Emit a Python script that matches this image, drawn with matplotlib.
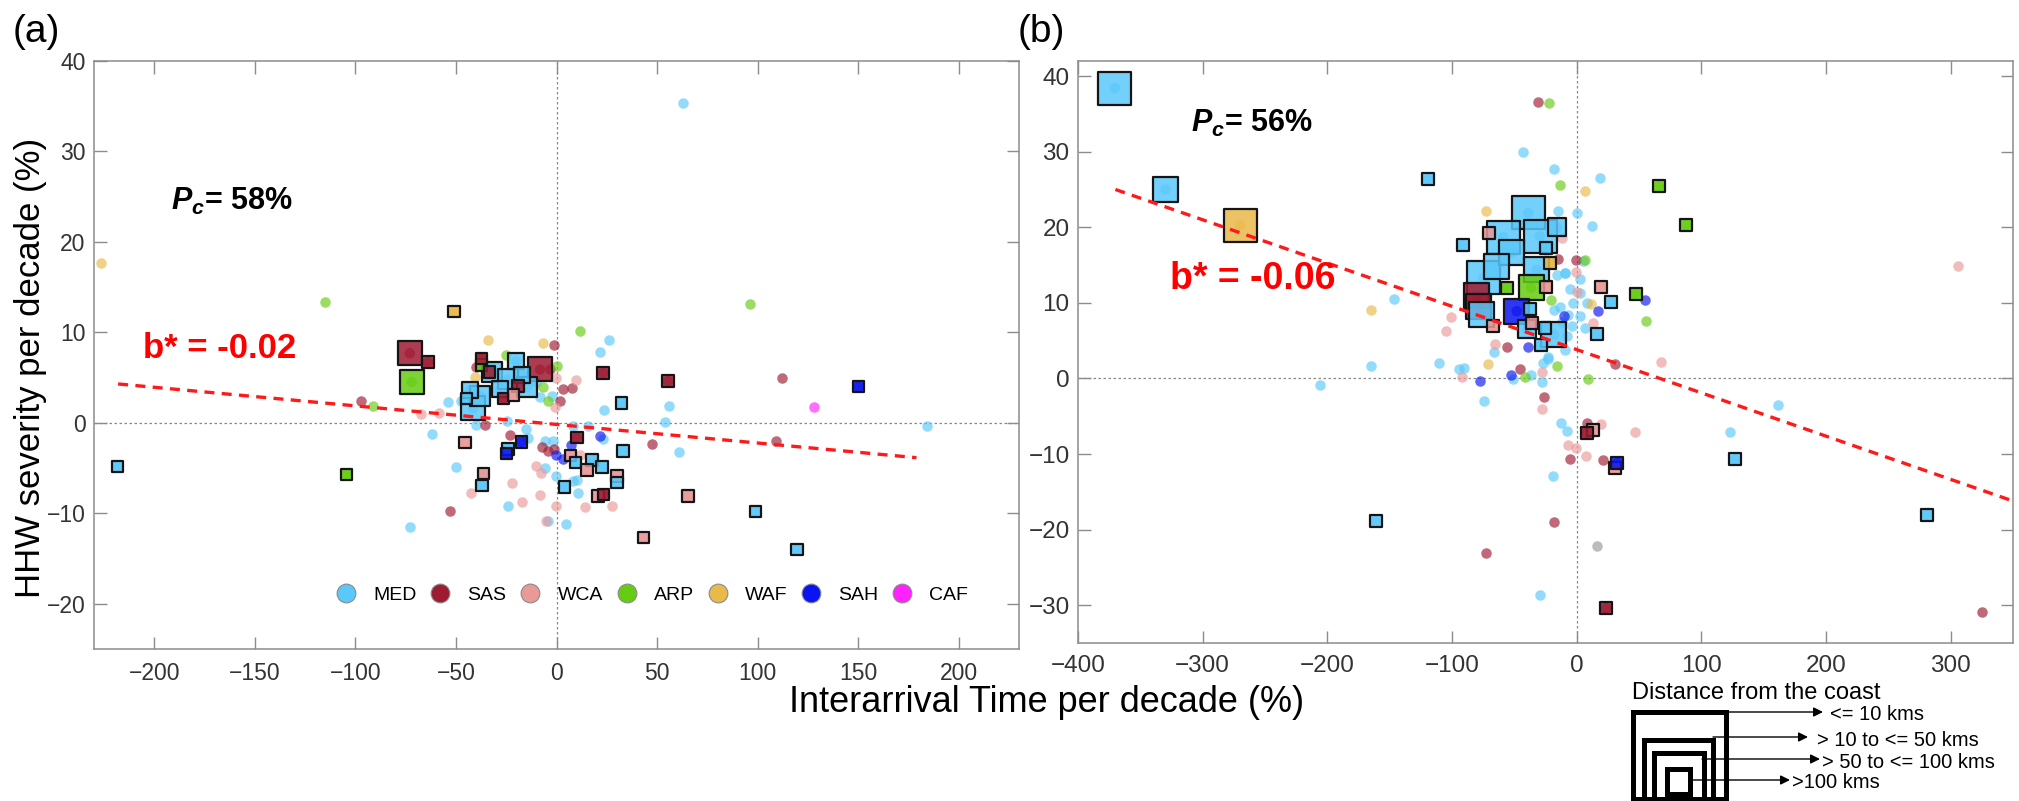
import matplotlib
matplotlib.use("Agg")
import matplotlib.pyplot as plt
from matplotlib.lines import Line2D
from matplotlib.patches import Rectangle
from matplotlib.colors import to_rgba

plt.rcParams.update({
    "font.family": "Liberation Sans",
    "mathtext.fontset": "custom",
    "mathtext.it": "Liberation Sans:italic:bold",
    "mathtext.rm": "Liberation Sans:bold",
})

REGIONS = ["MED", "SAS", "WCA", "ARP", "WAF", "SAH", "CAF"]
COLORS = {"MED": "#5AC8FA", "SAS": "#9E1B32", "WCA": "#EA9999", "ARP": "#66CC11",
          "WAF": "#E9B949", "SAH": "#0A14F0", "CAF": "#FF22FF", "OTH": "#999999"}

# ---------------- panel (a): stations without coastal square ----------------
a_med = [(63, 35.4), (21.4, 7.8), (26, 9.2), (184, -0.3), (56, 1.9), (23.4, 1.4), (53.8, 0.1),
         (60.8, -3.2), (-53.8, 2.3), (-62, -1.2), (-50, -4.9), (-73, -11.5), (-24.3, -9.2),
         (-4, -10.8), (4.8, -11.2), (10.6, -7.7), (10.2, -6.3), (-47.6, 2.4), (-39.9, -0.2),
         (-24.6, 0.2), (-15, -0.7), (-14.2, -1.7), (-5.9, -2.0), (-1.8, -2.0), (8.2, -0.4),
         (15.6, -0.4), (23.1, -1.8), (-5.5, -5.0), (-0.1, -5.9), (8.2, -6.4), (-36.9, -5.7),
         (-8.4, 2.9), (-10, 4.5), (-2, 3.0)]
a_sas = [(-1, 8.6), (112.3, 5.0), (47.7, -2.3), (109.4, -2.0), (-97, 2.4), (-52.8, -9.7),
         (7.7, 3.8), (3.2, 3.7), (-35.7, -0.2), (-23, -1.3), (-7.2, -2.7), (-4.2, -3.1),
         (-1.4, -2.9), (1.9, 2.4), (-39.9, 6.2), (-3, 6.0)]
a_wca = [(-67.2, 1.0), (-58.6, 1.1), (-42.6, -7.7), (-22, -6.6), (-17, -8.8), (-8.3, -8.0),
         (-0.3, -9.2), (14.4, -9.3), (27.8, -9.2), (9.6, 4.7), (-0.6, 1.75), (-10, -4.8),
         (-7.6, -5.5), (11.5, -3.5), (18.1, -4.0), (-0.1, 5.0), (-5, -10.9)]
a_arp = [(-115.2, 13.4), (96, 13.1), (11.8, 10.2), (-91.2, 1.9), (-4, 2.4), (0, 6.3),
         (-6.7, 4.0), (-24.9, 7.5)]
a_waf = [(-226.6, 17.7), (-34, 9.2), (-6.7, 8.8), (-40.7, 5.1)]
a_sah = [(-0.1, -3.5), (3.2, -4.0), (7.3, -2.4), (21.4, -1.5)]
a_caf = [(128.3, 1.75)]

# coastal stations: (region, distance class 1..4 [4 = <=10 km], x, y)
a_squares = [
    ("SAS", 4, -73, 7.7), ("ARP", 4, -72.1, 4.5), ("SAS", 4, -8.2, 5.9), ("MED", 4, -41.5, 1.6),
    ("MED", 3, -38.2, 3.0), ("MED", 3, -32, 5.6), ("MED", 3, -24, 4.8), ("MED", 3, -14.5, 4.0),
    ("MED", 2, -43, 3.6), ("MED", 2, -20, 6.8), ("MED", 2, -17, 5.3), ("MED", 2, -28, 3.7),
    ("ARP", 1, -37.4, 6.4), ("SAS", 1, -64, 6.7), ("SAS", 1, -37.3, 7.1), ("SAS", 1, -33.2, 5.6),
    ("SAS", 1, -19.2, 4.1), ("SAS", 1, -26.3, 2.7), ("WCA", 1, -21.3, 3.1), ("SAS", 1, 23.2, 5.5),
    ("SAS", 1, 55.4, 4.6), ("MED", 1, 32.4, 2.2), ("MED", 1, -44.8, 2.7), ("WCA", 1, -45.4, -2.2),
    ("SAH", 1, -17.4, -2.1), ("MED", 1, -24.1, -2.9), ("SAH", 1, -24.9, -3.4), ("SAS", 1, 10.1, -1.6),
    ("WCA", 1, 7.0, -3.6), ("MED", 1, 9.5, -4.4), ("MED", 1, 17.6, -4.1), ("MED", 1, 22.7, -4.9),
    ("WCA", 1, 15.1, -5.2), ("MED", 1, 33, -3.1), ("WCA", 1, -36.4, -5.6), ("MED", 1, -37.0, -6.9),
    ("MED", 1, 4.0, -7.1), ("WCA", 1, 30, -5.9), ("MED", 1, 30, -6.6), ("WCA", 1, 20.6, -8.1),
    ("SAS", 1, 23.4, -7.9), ("WCA", 1, 65.3, -8.1), ("ARP", 1, -104.4, -5.7), ("MED", 1, -218.2, -4.8),
    ("WAF", 1, -51, 12.3), ("WCA", 1, 43.2, -12.7), ("MED", 1, 98.9, -9.8), ("MED", 1, 119.7, -14.0),
    ("SAH", 1, 150.1, 4.0),
]
a_line_x = [-218, 179]
a_line_y = [4.3, -3.85]

# ---------------- panel (b) ----------------
b_med = [(-43, 29.9), (-18.3, 27.7), (18.9, 26.5), (-15.2, 22.2), (0.2, 21.9), (12.2, 20.2),
         (-9.5, 14), (-146.7, 10.5), (-165.3, 1.6), (-206.1, -0.8), (-110.1, 2.1), (-94.6, 1.3),
         (-90, 1.4), (-66.3, 3.5), (-50.8, -0.05), (-36.3, 0.4), (-27.6, -0.5), (-22.9, 2.6),
         (-74.5, -3.0), (161.2, -3.5), (123.1, -7.1), (-12.6, -5.9), (-7.4, -6.9), (-19.3, -12.9),
         (-29.1, -28.6), (-16, 13.7), (-9.4, 13.9), (2.7, 13.1), (-5.3, 11.9), (2.7, 11.3),
         (8, 10.0), (-13.4, 9.5), (-6.7, 8.4), (2.7, 8.2), (-4, 6.9), (6.7, 6.7), (-8, 5.6),
         (-9.4, 3.8), (-22.7, 2.9), (-26.7, 2.0), (-12, 7.5), (-18, 9.0), (5, 15.5), (-3, 10)]
b_sas = [(-31.2, 36.6), (-0.7, 15.7), (-14.7, 15.8), (-55.9, 4.2), (-45.1, 1.3), (-26.5, -2.4),
         (30.7, 1.9), (8.5, -5.9), (-5.4, -10.6), (21.4, -10.8), (-18.3, -19.0), (-72.9, -23.1),
         (324.8, -30.9)]
b_wca = [(-11.6, 18.6), (-0.7, 14.1), (-100.8, 8.1), (-104.9, 6.3), (-92, 0.2), (-65.2, 4.6),
         (-27.6, -4.1), (67.3, 2.2), (305.7, 14.9), (46.7, -7.1), (19.4, -6.0), (-6.9, -8.8),
         (-0.2, -9.2), (7.5, -10.2), (0, 11.5), (13.4, 7.4), (-27.5, 0.8)]
b_arp = [(-21.9, 36.4), (-13.6, 25.6), (7, 15.7), (-41.5, 0.2), (-15.7, 1.7), (9, -0.1),
         (55.5, 7.6), (-20.6, 10.4)]
b_waf = [(6.5, 24.8), (-72.4, 22.1), (-165.3, 9.0), (-70.9, 1.9), (11.8, 9.9)]
b_sah = [(-77.6, -0.3), (-38.9, 4.1), (-52.8, 0.5), (55, 10.4), (17.4, 8.9), (-10.2, 8.2)]
b_oth = [(16.3, -22.2)]

b_squares = [
    ("MED", 4, -370.6, 38.4), ("WAF", 4, -270, 20.3), ("MED", 4, -38.8, 21.9), ("MED", 4, -58.8, 18.7),
    ("MED", 4, -29.4, 18.8), ("MED", 4, -74.9, 13.3),
    ("MED", 3, -329.8, 25.0), ("MED", 3, -52.1, 16.6), ("MED", 3, -64.2, 14.8), ("MED", 3, -32.1, 14.4),
    ("ARP", 3, -36.6, 12.0), ("SAS", 3, -80, 11.0), ("SAS", 3, -79, 9.5), ("MED", 3, -76.2, 8.4),
    ("SAH", 3, -48.1, 8.9), ("MED", 3, -18.2, 5.8),
    ("MED", 2, -15.5, 20.0), ("MED", 2, -40.1, 6.5),
    ("MED", 1, -118.9, 26.4), ("MED", 1, -91.5, 17.6), ("ARP", 1, 65.8, 25.4), ("ARP", 1, 87.5, 20.3),
    ("ARP", 1, 47.2, 11.2), ("MED", 1, 127.2, -10.7), ("MED", 1, 281, -18), ("MED", 1, -161.2, -18.9),
    ("SAS", 1, 23.5, -30.4), ("WCA", 1, -70, 19.3), ("MED", 1, -24.9, 17.2), ("WAF", 1, -21.4, 15.3),
    ("ARP", 1, -56.1, 12.0), ("WCA", 1, -24.6, 12.1), ("WCA", 1, 19.8, 12.1), ("MED", 1, 27.6, 10.1),
    ("MED", 1, -37.4, 9.2), ("WCA", 1, -66.8, 6.9), ("WCA", 1, -35.6, 7.3), ("MED", 1, -25.1, 6.7),
    ("MED", 1, -28.3, 4.4), ("MED", 1, 16.6, 5.9), ("WCA", 1, 13, -6.8), ("SAS", 1, 8, -7.2),
    ("WCA", 1, 31, -11.8), ("SAH", 1, 32.6, -11.2),
]
b_line_x = [-370, 348]
b_line_y = [25.0, -16.1]

W, H = 2019, 801


def style_axes(ax, xlim, ylim, xticks, yticks, fs):
    ax.set_xlim(*xlim)
    ax.set_ylim(*ylim)
    ax.set_xticks(xticks)
    ax.set_yticks(yticks)
    ax.tick_params(direction="in", top=True, right=True, length=9, width=1,
                   color="#8c8c8c", labelcolor="#333333", labelsize=fs)
    ax.tick_params(axis="x", pad=9)
    ax.tick_params(axis="y", pad=6)
    for sp in ax.spines.values():
        sp.set_color("#8c8c8c")
        sp.set_linewidth(1.1)
    ax.axhline(0, color="#888888", lw=0.9, ls=(0, (2, 2)), zorder=1)
    ax.axvline(0, color="#888888", lw=0.9, ls=(0, (2, 2)), zorder=1)


def draw_points(ax, circles, squares, circ_px, sq_px):
    s_c = (circ_px * 0.72) ** 2
    for reg, pts in circles.items():
        if not pts:
            continue
        ax.scatter([p[0] for p in pts], [p[1] for p in pts], s=s_c,
                   color=COLORS[reg], alpha=0.65, linewidths=0, zorder=2)
    # circles of the coastal stations (seen inside their squares)
    ax.scatter([q[2] for q in squares], [q[3] for q in squares], s=s_c,
               color=[COLORS[q[0]] for q in squares], alpha=0.65, linewidths=0, zorder=2)
    for d in (4, 3, 2, 1):
        sub = [q for q in squares if q[1] == d]
        if not sub:
            continue
        ax.scatter([q[2] for q in sub], [q[3] for q in sub], marker="s",
                   s=(sq_px[d - 1] * 0.72) ** 2,
                   facecolors=[to_rgba(COLORS[q[0]], 0.85) for q in sub],
                   edgecolors="#151515", linewidths=1.6, zorder=3 + (4 - d) * 0.1)


fig = plt.figure(figsize=(W / 100, H / 100), dpi=100)

# ---- panel a ----
ax_a = fig.add_axes([94 / W, 1 - 649 / H, (1019 - 94) / W, (649 - 61) / H])
style_axes(ax_a, (-230, 230), (-25, 40), range(-200, 201, 50), range(-20, 41, 10), 16.5)
a_circles = {"MED": a_med, "SAS": a_sas, "WCA": a_wca, "ARP": a_arp, "WAF": a_waf,
             "SAH": a_sah, "CAF": a_caf}
draw_points(ax_a, a_circles, a_squares, 10.5, [11.5, 16, 20, 24])
ax_a.plot(a_line_x, a_line_y, color="#FF1A1A", lw=2.4, dashes=(3, 2.2), zorder=5)
ax_a.text(-191.5, 24.5, r"$P_c$= 58%", fontsize=22, fontweight="bold", ha="left", va="center")
ax_a.text(-205.5, 8.2, "b* = -0.02", fontsize=25, fontweight="bold", color="#FF0000",
          ha="left", va="center", zorder=6)

handles = [Line2D([], [], ls="none", marker="o", markersize=13.5, markerfacecolor=COLORS[r],
                  markeredgecolor="#8a8a8a", markeredgewidth=0.8) for r in REGIONS]
ax_a.legend(handles, REGIONS, loc="center left", bbox_to_anchor=(0.262, 0.092), ncol=7,
            frameon=False, fontsize=14, handlelength=1.0, handletextpad=0.9,
            columnspacing=0.72, borderpad=0, borderaxespad=0)

# ---- panel b ----
ax_b = fig.add_axes([1078 / W, 1 - 643 / H, (2013 - 1078) / W, (643 - 61) / H])
style_axes(ax_b, (-400, 350), (-35, 42), range(-400, 301, 100), range(-30, 41, 10), 17.5)
b_circles = {"MED": b_med, "SAS": b_sas, "WCA": b_wca, "ARP": b_arp, "WAF": b_waf,
             "SAH": b_sah, "OTH": b_oth}
draw_points(ax_b, b_circles, b_squares, 10.5, [12, 18, 25, 33])
ax_b.plot(b_line_x, b_line_y, color="#FF1A1A", lw=2.4, dashes=(3, 2.2), zorder=5)
ax_b.text(-309.5, 33.8, r"$P_c$= 56%", fontsize=22, fontweight="bold", ha="left", va="center")
ax_b.text(-326, 13.2, "b* = -0.06", fontsize=27, fontweight="bold", color="#FF0000",
          ha="left", va="center", zorder=6)

# ---- shared labels ----
fig.text(31 / W, 1 - 368 / H, "HHW severity per decade (%)", rotation=90, fontsize=25,
         ha="center", va="center")
fig.text(1047 / W, 1 - 702 / H, "Interarrival Time per decade (%)", fontsize=26,
         ha="center", va="center")
fig.text(13 / W, 1 - 32 / H, "(a)", fontsize=28, ha="left", va="center")
fig.text(1018 / W, 1 - 32 / H, "(b)", fontsize=28, ha="left", va="center")

# ---- distance-from-coast key (pixel coordinates) ----
key = fig.add_axes([0, 0, 1, 1], zorder=10)
key.set_xlim(0, W)
key.set_ylim(H, 0)
key.axis("off")
key.patch.set_alpha(0)
key.text(1632, 693, "Distance from the coast", fontsize=17, ha="left", va="center")
boxes = [(1632.5, 711.5, 1726, 799), (1644, 739.5, 1712.5, 799),
         (1654, 753, 1704, 799), (1667, 769, 1690, 794)]
for x0, y0, x1, y1 in boxes:
    key.add_patch(Rectangle((x0, y0), x1 - x0, y1 - y0, fill=False, lw=3.6,
                            edgecolor="black", clip_on=False))
arrows = [(1726, 712, 1823, "<= 10 kms", 1830), (1713, 737, 1808, "> 10 to <= 50 kms", 1817),
          (1702, 759, 1820, "> 50 to <= 100 kms", 1822), (1690, 780, 1790, ">100 kms", 1792)]
for xs, yy, xe, lab, xt in arrows:
    key.annotate("", xy=(xe, yy), xytext=(xs, yy),
                 arrowprops=dict(arrowstyle="-|>", color="black", lw=1.0,
                                 mutation_scale=14, shrinkA=0, shrinkB=0))
    key.text(xt, yy + 3, lab, fontsize=14.5, ha="left", va="center")

fig.savefig("out.png", dpi=100)
